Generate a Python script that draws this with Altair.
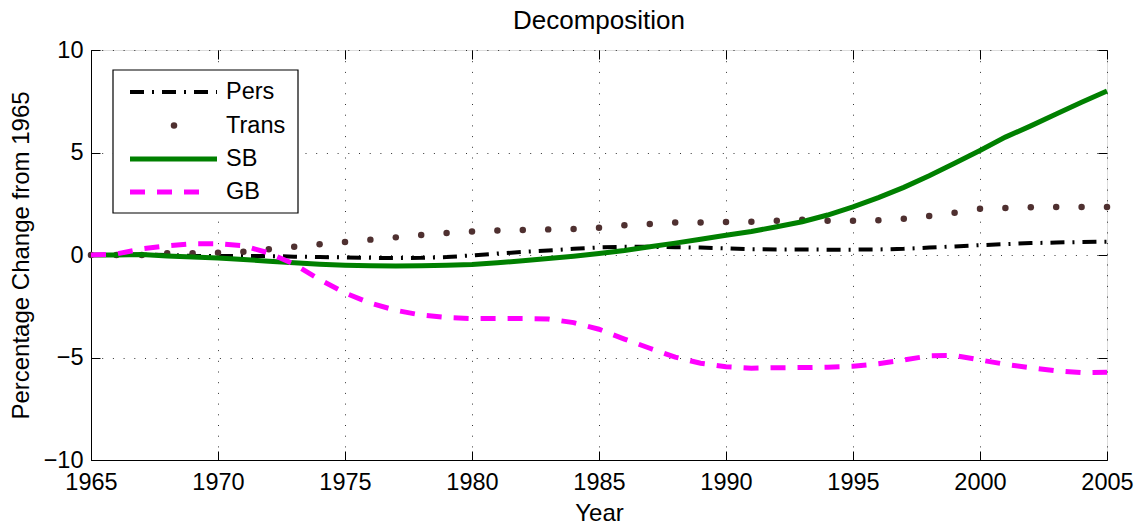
import altair as alt
import pandas as pd

# ---------------- data ----------------
years = list(range(1965, 2006))
pers = [0.0, 0.0, 0.02, 0.0, -0.04, -0.05, -0.05, -0.05, -0.08, -0.1,
        -0.12, -0.14, -0.15, -0.14, -0.1, -0.02, 0.07, 0.15, 0.22, 0.3,
        0.37, 0.4, 0.4, 0.38, 0.36, 0.32, 0.28, 0.27, 0.27, 0.26,
        0.26, 0.27, 0.3, 0.36, 0.42, 0.48, 0.53, 0.58, 0.61, 0.63, 0.65]
trans = [0.0, 0.0, 0.0, 0.08, 0.08, 0.11, 0.16, 0.28, 0.4, 0.52,
         0.63, 0.75, 0.86, 0.98, 1.07, 1.15, 1.19, 1.22, 1.25, 1.27,
         1.33, 1.45, 1.51, 1.58, 1.59, 1.61, 1.62, 1.67, 1.72, 1.67,
         1.67, 1.69, 1.77, 1.9, 2.06, 2.26, 2.29, 2.33, 2.34, 2.34, 2.34]
sb = [0.0, 0.0, 0.02, -0.05, -0.1, -0.15, -0.22, -0.3, -0.38, -0.45,
      -0.5, -0.53, -0.54, -0.53, -0.5, -0.46, -0.38, -0.28, -0.17, -0.06,
      0.07, 0.22, 0.4, 0.58, 0.77, 0.96, 1.15, 1.38, 1.62, 1.95,
      2.35, 2.8, 3.3, 3.87, 4.48, 5.1, 5.75, 6.3, 6.88, 7.45, 8.0]
gb = [0.0, 0.05, 0.3, 0.45, 0.55, 0.55, 0.45, 0.1, -0.45, -1.2,
      -1.85, -2.35, -2.7, -2.93, -3.05, -3.1, -3.1, -3.1, -3.12, -3.3,
      -3.62, -4.1, -4.55, -4.98, -5.28, -5.45, -5.52, -5.5, -5.49, -5.47,
      -5.43, -5.3, -5.12, -4.92, -4.9, -5.12, -5.33, -5.5, -5.65, -5.74, -5.72]

legend_labels = ["Pers", "Trans", "SB", "GB"]
chart_title = "Decomposition"
x_ticks = [1965, 1970, 1975, 1980, 1985, 1990, 1995, 2000, 2005]
y_ticks = [-10, -5, 0, 5, 10]

df = pd.DataFrame({"Year": years, "Pers": pers, "Trans": trans, "SB": sb, "GB": gb})

W, H = 1016, 410
FONT = "Liberation Sans"
FS = 23.5

xs = alt.Scale(domain=[1965, 2005], nice=False, zero=False)
ys = alt.Scale(domain=[-10, 10], nice=False)

x_main = alt.X("Year:Q", scale=xs, axis=alt.Axis(
    values=x_ticks, format="d", title="Year", grid=True, gridDash=[1, 9.7],
    gridColor="black", gridOpacity=0.8, tickSize=0, labelFontSize=FS,
    labelFont=FONT, titleFont=FONT, titleFontSize=24, titleFontWeight="normal",
    labelPadding=10, titlePadding=8, domainColor="black", labelColor="black",
    titleColor="black", labelFlush=False))
y_main = alt.Y("Pers:Q", scale=ys, axis=alt.Axis(
    values=y_ticks, title="Percentage Change from 1965", grid=True, gridDash=[1, 9.7],
    gridColor="black", gridOpacity=0.8, tickSize=0, labelFontSize=FS,
    labelFont=FONT, titleFont=FONT, titleFontSize=24, titleFontWeight="normal",
    labelPadding=8, titlePadding=10, domainColor="black", labelColor="black",
    titleColor="black"))

base = alt.Chart(df)

pers_line = base.mark_line(color="black", strokeWidth=4, strokeDash=[14, 8, 2, 8]).encode(
    x=x_main, y=y_main)
trans_pts = base.mark_circle(color="#4f3030", size=42, opacity=1).encode(
    x=alt.X("Year:Q", scale=xs, axis=None), y=alt.Y("Trans:Q", scale=ys, axis=None))
sb_line = base.mark_line(color="#008000", strokeWidth=5).encode(
    x=alt.X("Year:Q", scale=xs, axis=None), y=alt.Y("SB:Q", scale=ys, axis=None))
gb_line = base.mark_line(color="#ff00ff", strokeWidth=5, strokeDash=[15, 12]).encode(
    x=alt.X("Year:Q", scale=xs, axis=None), y=alt.Y("GB:Q", scale=ys, axis=None))


def tick_axis(orient, off):
    return alt.Axis(values=x_ticks if orient in ("top", "bottom") else y_ticks,
                    orient=orient, offset=off, labels=False, domain=False,
                    grid=False, tickSize=9, tickColor="black", title=None)


# inward ticks on all four sides (MATLAB style)
ticks_xy1 = base.mark_point(opacity=0).encode(
    x=alt.X("Year:Q", scale=xs, axis=tick_axis("top", -H)),
    y=alt.Y("Pers:Q", scale=ys, axis=tick_axis("right", -W)))
ticks_xy2 = base.mark_point(opacity=0).encode(
    x=alt.X("Year:Q", scale=xs, axis=tick_axis("bottom", -H)),
    y=alt.Y("Pers:Q", scale=ys, axis=tick_axis("left", -W)))

one = pd.DataFrame({"k": [0]})

# title as text above the plot
title_txt = alt.Chart(one).mark_text(
    text=chart_title, align="center", baseline="alphabetic", font=FONT, fontSize=26,
    color="black").encode(x=alt.value(W / 2), y=alt.value(-20.7))

# legend box
leg_box = alt.Chart(one).mark_rect(fill="white", stroke="black", strokeWidth=1.2).encode(
    x=alt.value(22), x2=alt.value(207), y=alt.value(20), y2=alt.value(163))
leg_pers = alt.Chart(one).mark_rule(color="black", strokeWidth=4, strokeDash=[14, 8, 2, 8]).encode(
    x=alt.value(39), x2=alt.value(126), y=alt.value(42))
leg_trans = alt.Chart(one).mark_circle(color="#4f3030", size=42, opacity=1).encode(
    x=alt.value(83), y=alt.value(75.5))
leg_sb = alt.Chart(one).mark_rule(color="#008000", strokeWidth=5).encode(
    x=alt.value(39), x2=alt.value(126), y=alt.value(109))
leg_gb = alt.Chart(one).mark_rule(color="#ff00ff", strokeWidth=5, strokeDash=[15, 12]).encode(
    x=alt.value(39), x2=alt.value(112), y=alt.value(142))

leg_texts = []
for lab, yy in zip(legend_labels, [42, 75.5, 109, 142]):
    leg_texts.append(alt.Chart(one).mark_text(
        text=lab, align="left", baseline="middle", font=FONT, fontSize=FS, color="black").encode(
        x=alt.value(135), y=alt.value(yy)))

chart = alt.layer(
    pers_line, trans_pts, sb_line, gb_line, ticks_xy1, ticks_xy2, title_txt,
    leg_box, leg_pers, leg_trans, leg_sb, leg_gb, *leg_texts
).resolve_axis(x="independent", y="independent").properties(
    width=W, height=H,
    autosize=alt.AutoSizeParams(type="none"),
    padding={"left": 91, "top": 50, "right": 34, "bottom": 67},
).configure_view(stroke="black", strokeWidth=1.2).configure(background="white")

chart.save("out.html", embed_options={"renderer": "svg", "actions": False})
